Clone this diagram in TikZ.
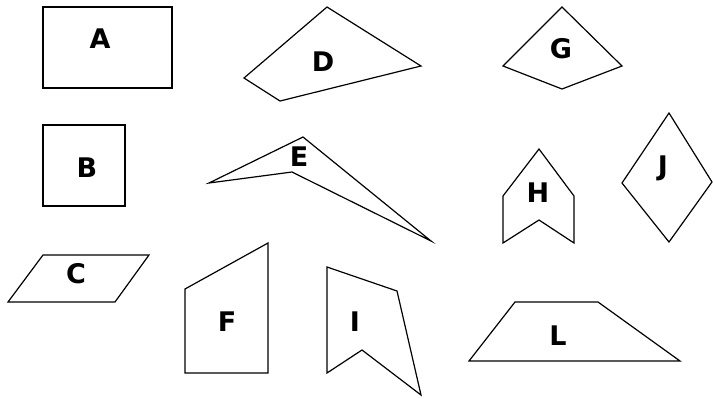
\documentclass[tikz,border=0pt]{standalone}
\usepackage{fontspec}
\setmainfont{DejaVu Sans}

\tikzset{
  outline/.style={draw, line width=0.6pt, line join=miter},
  lab/.style={font=\fontsize{13.5}{15}\selectfont\bfseries, inner sep=0pt}
}

\begin{document}
\begin{tikzpicture}[x=0.5pt, y=-0.5pt]
      \useasboundingbox (0,0) rectangle (713,398);

      % Left column
      \draw[outline] (43,7) rectangle (172,88);
      \node[lab] (labA) at (100,39) {A};
      \draw[outline] (43,125) rectangle (125,206);
      \node[lab] (labB) at (87,168) {B};
      \draw[outline] (43,255) -- (149,255) -- (115,302) -- (8,302) -- cycle;
      \node[lab] (labC) at (76,274) {C};

      % Middle
      \draw[outline] (327,7) -- (421,66) -- (280,101) -- (244,78) -- cycle;
      \node[lab] (labD) at (323,62) {D};
      \draw[outline] (209,183) -- (303,137) -- (431,241) -- (292,172) -- cycle;
      \node[lab] (labE) at (299,157) {E};
      \draw[outline] (268,243) -- (268,373) -- (185,373) -- (185,289) -- cycle;
      \node[lab] (labF) at (227,322) {F};
      \draw[outline] (327,267) -- (397,291) -- (421,395) -- (362,350) -- (327,373) -- cycle;
      \node[lab] (labI) at (355,322) {I};

      % Right
      \draw[outline] (562,7) -- (622,66) -- (562,89) -- (503,66) -- cycle;
      \node[lab] (labG) at (561,49) {G};
      \draw[outline] (539,149) -- (574,196) -- (574,243) -- (539,220) -- (503,243) -- (503,196) -- cycle;
      \node[lab] (labH) at (538,193) {H};
      \draw[outline] (669,113) -- (712,182) -- (669,242) -- (622,183) -- cycle;
      \node[lab] (labJ) at (663,168) {J};
      \draw[outline] (515,302) -- (598,302) -- (680,361) -- (469,361) -- cycle;
      \node[lab] (labL) at (558,336) {L};
    \end{tikzpicture}
\end{document}
